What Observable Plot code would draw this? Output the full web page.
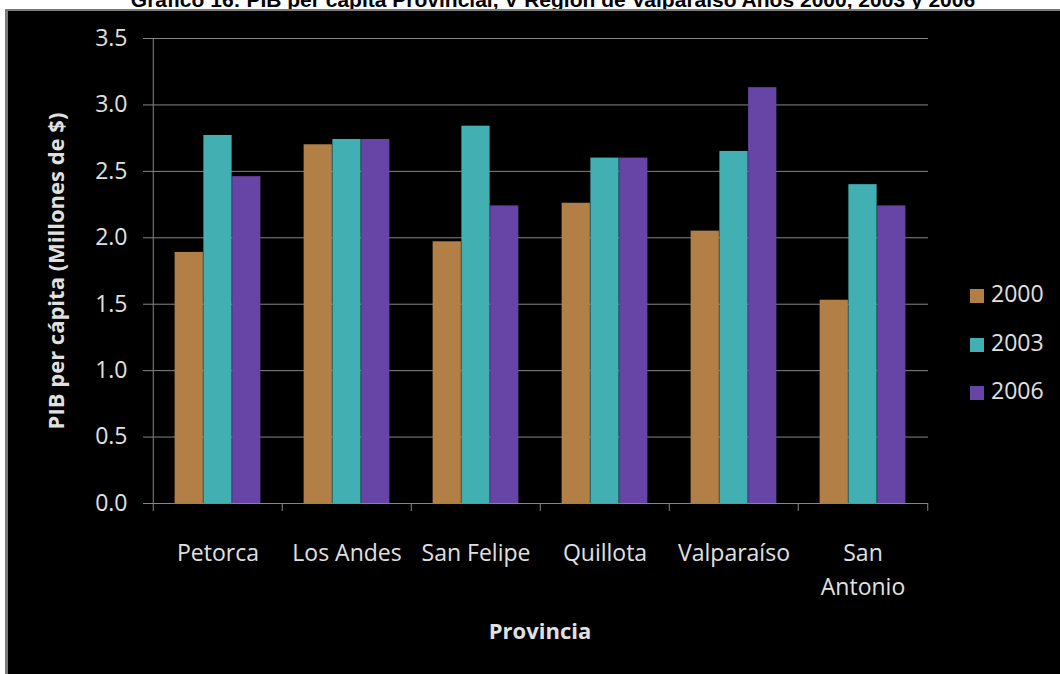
<!DOCTYPE html>
<html>
<head>
<meta charset="utf-8">
<script src="https://cdn.jsdelivr.net/npm/d3@7"></script>
<script src="https://cdn.jsdelivr.net/npm/@observablehq/plot@0.6"></script>
<style>
  body { margin: 0; background: #fff; }
  #page { position: relative; width: 1060px; height: 674px; overflow: hidden; background: #fff; font-family: "Open Sans", sans-serif; }
  #title { position: absolute; left: 23px; top: -11px; width: 1060px; text-align: center; white-space: nowrap;
           font: bold 21px/21px "Liberation Sans", Arial, sans-serif; color: #000; }
  #panel { position: absolute; left: 5px; top: 9px; width: 1055px; height: 665px; box-sizing: border-box;
           border-left: 3px solid #7a7a7a; border-top: 2px solid #7a7a7a; background: #000; }
  #chart { position: absolute; left: 0; top: 0; }
  .lg-sw { position: absolute; width: 14px; height: 14px; }
  .lg-tx { position: absolute; font: 23px/23px "Open Sans", sans-serif; color: #e0e0e0; }
</style>
</head>
<body>
<div id="page">
  <div id="title">Gráfico 16: PIB per cápita Provincial, V Región de Valparaíso Años 2000, 2003 y 2006</div>
  <div id="panel"><div id="chart"></div></div>
  <div id="legend"></div>
</div>
<script>
const provinces = ["Petorca", "Los Andes", "San Felipe", "Quillota", "Valparaíso", "San Antonio"];
const provinceLabels = ["Petorca", "Los Andes", "San Felipe", "Quillota", "Valparaíso", "San\nAntonio"];
const years = ["2000", "2003", "2006"];
const values2000 = [1.89, 2.70, 1.97, 2.26, 2.05, 1.53];
const values2003 = [2.77, 2.74, 2.84, 2.60, 2.65, 2.40];
const values2006 = [2.46, 2.74, 2.24, 2.60, 3.13, 2.24];
const yTicks = [0, 0.5, 1, 1.5, 2, 2.5, 3, 3.5];
const colors = ["#b28046", "#42b0b2", "#6745a7"];
const yLabel = "PIB per cápita (Millones de $)";
const xLabel = "Provincia";

const seriesValues = [values2000, values2003, values2006];
const rows = [];
years.forEach((yr, j) => provinces.forEach((p, i) => rows.push({province: p, year: yr, value: seriesValues[j][i]})));

const W = 1052, H = 663, ML = 143, MR = 132, MT = 27, MB = 171;
const bw = (W - ML - MR) / provinces.length;
const barW = bw * 0.222;
const outer = (bw - 3 * barW) / 2;
const gridColor = "#868686";
const textColor = "#e0e0e0";

const chart = Plot.plot({
  width: W, height: H,
  marginLeft: ML, marginRight: MR, marginTop: MT, marginBottom: MB,
  style: {background: "#000", color: textColor, fontFamily: "Open Sans, sans-serif", fontSize: "23px"},
  x: {type: "band", domain: provinces, padding: 0},
  y: {domain: [0, 3.5]},
  marks: [
    Plot.gridY(yTicks, {stroke: gridColor, strokeOpacity: 1}),
    Plot.axisY(yTicks, {tickSize: 8, tickPadding: 16, tickFormat: d3.format(".1f"), stroke: gridColor, fill: textColor, fontSize: 23, label: null}),
    ...years.map((yr, i) => Plot.barY(rows.filter(r => r.year === yr), {
      x: "province", y: "value", fill: colors[i],
      insetLeft: outer + i * barW, insetRight: bw - outer - (i + 1) * barW
    })),
    Plot.ruleY([0], {stroke: gridColor}),
    Plot.ruleX([provinces[0]], {x: d => d, dx: -bw / 2, y1: 0, y2: 3.5, stroke: gridColor}),
    Plot.ruleX(provinces, {x: d => d, dx: -bw / 2, y1: 0, y2: 0, insetTop: 0, insetBottom: -8, stroke: gridColor}),
    Plot.ruleX([provinces[provinces.length - 1]], {x: d => d, dx: bw / 2, y1: 0, y2: 0, insetTop: 0, insetBottom: -8, stroke: gridColor}),
    Plot.axisX(provinces, {tickSize: 0, tickPadding: 34, tickFormat: d => provinceLabels[provinces.indexOf(d)], lineHeight: 1.45, fill: textColor, fontSize: 23, label: null}),
    Plot.text([yLabel], {text: d => d, frameAnchor: "left", textAnchor: "middle", dx: -95, rotate: -90, fontWeight: "bold", fontSize: 22, fill: textColor}),
    Plot.text([xLabel], {text: d => d, frameAnchor: "bottom", lineAnchor: "top", dy: 120, fontWeight: "bold", fontSize: 22, fill: textColor})
  ]
});
document.getElementById("chart").appendChild(chart);

const legend = document.getElementById("legend");
years.forEach((yr, i) => {
  const sw = document.createElement("div");
  sw.className = "lg-sw";
  sw.style.left = "970px";
  sw.style.top = (289 + 48.5 * i) + "px";
  sw.style.background = colors[i];
  legend.appendChild(sw);
  const tx = document.createElement("div");
  tx.className = "lg-tx";
  tx.style.left = "991px";
  tx.style.top = (282 + 48.5 * i) + "px";
  tx.textContent = yr;
  legend.appendChild(tx);
});
</script>
</body>
</html>
